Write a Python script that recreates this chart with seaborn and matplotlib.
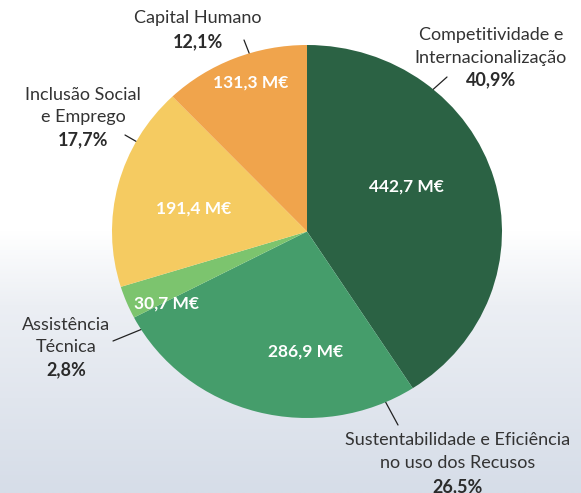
import numpy as np
import seaborn as sns
import matplotlib.pyplot as plt
from matplotlib.colors import LinearSegmentedColormap

# data
eixos = [["Competitividade e", "Internacionalização"],
         ["Sustentabilidade e Eficiência", "no uso dos Recusos"],
         ["Assistência", "Técnica"],
         ["Inclusão Social", "e Emprego"],
         ["Capital Humano"]]
valores = [442.7, 286.9, 30.7, 191.4, 131.3]
percentagens = ["40,9%", "26,5%", "2,8%", "17,7%", "12,1%"]
cores = ["#2b6244", "#459d6b", "#7cc46e", "#f5cb61", "#f0a44c"]

sns.set_theme(style="white")
plt.rcParams['font.family'] = ['Lato', 'DejaVu Sans']

W, H = 581, 493
fig = plt.figure(figsize=(W / 100, H / 100), dpi=100)

# sky-like background
bg = fig.add_axes([0, 0, 1, 1])
grad = np.linspace(0, 1, 300)[:, None]
sky = LinearSegmentedColormap.from_list(
    "sky", [(0, "#ffffff"), (0.47, "#ffffff"), (0.62, "#eceff4"), (1, "#d6dde8")])
bg.imshow(grad, aspect="auto", cmap=sky, extent=[0, 1, 0, 1], origin="upper")
bg.set_xlim(0, 1)
bg.set_ylim(0, 1)
bg.axis("off")

# pie axes in pixel placement
x0, x1, y0, y1 = 112, 502, 45, 418
ax = fig.add_axes([x0 / W, (H - y1) / H, (x1 - x0) / W, (y1 - y0) / H])
wedges, _ = ax.pie(valores, colors=sns.color_palette(cores), startangle=90,
                   counterclock=False, radius=1,
                   wedgeprops=dict(linewidth=0))
ax.set_aspect("auto")
ax.set_xlim(-1, 1)
ax.set_ylim(-1, 1)
ax.axis("off")

def px(x, y):
    # pixel position -> figure fraction
    return (x / W, 1 - y / H)

# inner value labels
pos_valor = [(406, 187), (306, 352), (166, 304), (194, 209), (251, 83)]
for v, (xp, yp) in zip(valores, pos_valor):
    fig.text(*px(xp, yp), f"{v:.1f}".replace(".", ",") + " M€",
             ha="center", va="center", color="white",
             fontsize=12.5, fontweight="bold")

# outer labels: centre of first line, line step, leader line start/end
pos_texto = [(491, 35), (458, 440), (66, 325), (83, 95), (198, 18)]
passo = [22.5, 23.5, 22.5, 22.5, 24]
linhas = [((447, 77), (410, 110)),
          ((378, 388), (398, 425)),
          ((113, 341), (157, 323)),
          ((125, 135), (172, 162)),
          ((244, 40), (262, 86))]
for nome, pct, (xt, yt), dy, (a, b) in zip(eixos, percentagens, pos_texto, passo, linhas):
    for i, linha in enumerate(nome):
        fig.text(*px(xt, yt + i * dy), linha, ha="center", va="center",
                 color="#333333", fontsize=13)
    fig.text(*px(xt, yt + len(nome) * dy), pct, ha="center", va="center",
             color="#2b2b2b", fontsize=13, fontweight="bold")
    bg.plot([a[0] / W, b[0] / W], [1 - a[1] / H, 1 - b[1] / H],
            color="#222222", lw=0.9)

fig.savefig("out.png", dpi=100)
